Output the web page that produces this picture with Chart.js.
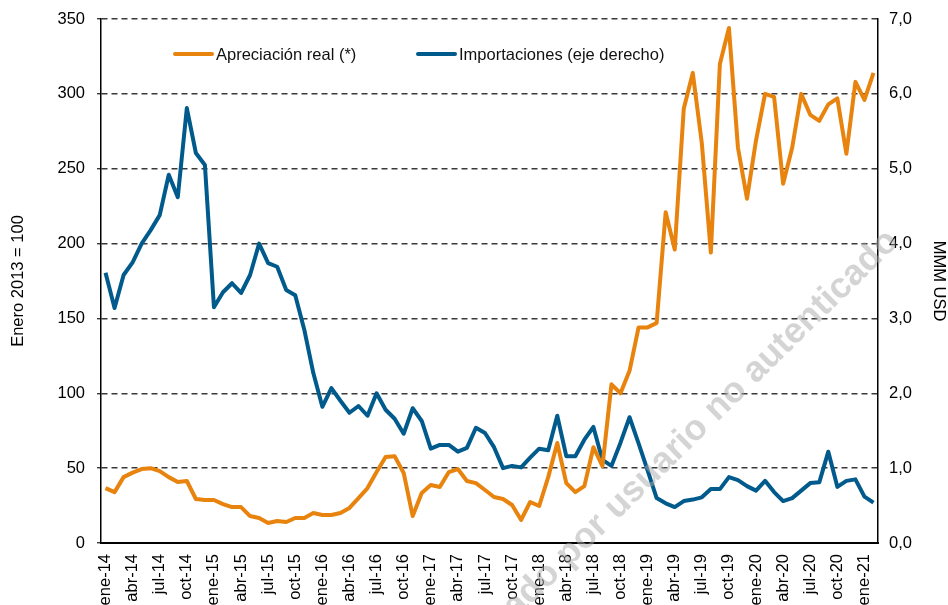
<!DOCTYPE html>
<html>
<head>
<meta charset="utf-8">
<script src="https://cdn.jsdelivr.net/npm/chart.js@4.4.1/dist/chart.umd.min.js"></script>
<style>
  html, body { margin: 0; padding: 0; background: #fff; }
  #wrap { width: 948px; height: 605px; }
</style>
</head>
<body>
<div id="wrap"><canvas id="chart" width="948" height="605"></canvas></div>
<script>
const FONT = "'Liberation Sans', Arial, sans-serif";
const FS   = 16.5;

// ── Data ──
const months = [
  "ene-14","feb-14","mar-14","abr-14","may-14","jun-14","jul-14","ago-14","sep-14","oct-14","nov-14","dic-14",
  "ene-15","feb-15","mar-15","abr-15","may-15","jun-15","jul-15","ago-15","sep-15","oct-15","nov-15","dic-15",
  "ene-16","feb-16","mar-16","abr-16","may-16","jun-16","jul-16","ago-16","sep-16","oct-16","nov-16","dic-16",
  "ene-17","feb-17","mar-17","abr-17","may-17","jun-17","jul-17","ago-17","sep-17","oct-17","nov-17","dic-17",
  "ene-18","feb-18","mar-18","abr-18","may-18","jun-18","jul-18","ago-18","sep-18","oct-18","nov-18","dic-18",
  "ene-19","feb-19","mar-19","abr-19","may-19","jun-19","jul-19","ago-19","sep-19","oct-19","nov-19","dic-19",
  "ene-20","feb-20","mar-20","abr-20","may-20","jun-20","jul-20","ago-20","sep-20","oct-20","nov-20","dic-20",
  "ene-21","feb-21"
];

// Apreciación real, Enero 2013 = 100 (left axis)
const apreciacion = [
  36.7, 34, 44, 47, 49.4, 50, 48, 44, 40.7, 41.4, 29.4, 28.7,
  28.7, 26, 24, 24, 18, 16.7, 13.4, 14.7, 14, 16.7, 16.7, 20,
  18.7, 18.7, 20, 23.4, 30, 36.7, 47.4, 57.4, 58, 46.8, 18, 33.4,
  38.7, 37.4, 47.4, 49.4, 41.4, 40, 35.4, 30.7, 29.4, 25.4, 15.4, 27.4,
  24.7, 44, 66.8, 40, 34, 38, 64, 51.4, 106, 100, 115, 144,
  144, 147, 221, 196, 290, 314, 267, 194, 320, 344, 264, 230,
  269, 300, 298, 240, 264, 300, 286, 282, 293, 297, 260, 308,
  296, 314
];

// Importaciones, MMM USD (right axis)
const importaciones = [
  3.61, 3.14, 3.58, 3.75, 4.0, 4.18, 4.38, 4.92, 4.62, 5.81, 5.21, 5.05,
  3.15, 3.35, 3.47, 3.34, 3.58, 4.0, 3.74, 3.69, 3.38, 3.31, 2.85, 2.27,
  1.82, 2.07, 1.90, 1.74, 1.83, 1.70, 2.0, 1.78, 1.66, 1.46, 1.80, 1.63,
  1.26, 1.31, 1.31, 1.22, 1.27, 1.54, 1.47, 1.28, 1.0, 1.03, 1.01, 1.14,
  1.26, 1.24, 1.70, 1.16, 1.16, 1.38, 1.55, 1.11, 1.03, 1.34, 1.68, 1.33,
  0.97, 0.60, 0.53, 0.48, 0.56, 0.58, 0.61, 0.72, 0.72, 0.88, 0.84, 0.76,
  0.70, 0.83, 0.68, 0.56, 0.60, 0.70, 0.80, 0.81, 1.22, 0.75, 0.83, 0.85,
  0.62, 0.54
];

const ORANGE = "#E8830E";
const BLUE   = "#005A8C";

// ── Legend inside the plot ──
const legendItems = [
  { text: "Apreciación real (*)",        color: ORANGE, x: 175 },
  { text: "Importaciones (eje derecho)", color: BLUE,   x: 418 },
];

const insideLegend = {
  id: "insideLegend",
  afterDraw(chart) {
    const ctx = chart.ctx;
    const y = 54;
    ctx.save();
    ctx.font = FS + "px " + FONT;
    ctx.textBaseline = "middle";
    ctx.fillStyle = "#111";
    legendItems.forEach(it => {
      ctx.strokeStyle = it.color;
      ctx.lineWidth = 4;
      ctx.lineCap = "round";
      ctx.beginPath();
      ctx.moveTo(it.x, y);
      ctx.lineTo(it.x + 37, y);
      ctx.stroke();
      ctx.fillText(it.text, it.x + 41, y + 1);
    });
    ctx.restore();
  }
};

// ── Watermark ──
const watermark = {
  id: "watermark",
  afterDraw(chart) {
    const ctx = chart.ctx;
    ctx.save();
    ctx.translate(893, 236);
    ctx.rotate(-Math.PI / 4.05);
    ctx.font = "bold 36px " + FONT;
    ctx.fillStyle = "rgba(170,170,170,0.5)";
    ctx.textAlign = "right";
    ctx.textBaseline = "middle";
    ctx.fillText("Descargado por usuario no autenticado", 0, 0);
    ctx.restore();
  }
};

// vertical axes: fixed width, no extra label padding
const fixY = w => s => { s.width = w; s.paddingTop = 0; s.paddingBottom = 0; };

// ── Chart ──
new Chart(document.getElementById("chart"), {
  type: "line",
  data: {
    labels: months,
    datasets: [
      {
        label: "Apreciación real (*)",
        data: apreciacion,
        yAxisID: "y",
        borderColor: ORANGE,
        backgroundColor: ORANGE,
        borderWidth: 4,
        pointRadius: 0,
        tension: 0,
        borderJoinStyle: "round",
      },
      {
        label: "Importaciones (eje derecho)",
        data: importaciones,
        yAxisID: "y2",
        borderColor: BLUE,
        backgroundColor: BLUE,
        borderWidth: 4,
        pointRadius: 0,
        tension: 0,
        borderJoinStyle: "round",
      },
    ],
  },
  options: {
    responsive: false,
    animation: false,
    devicePixelRatio: 1,
    layout: { padding: { top: 19, left: 0, right: 0, bottom: 0 } },
    plugins: { legend: { display: false }, tooltip: { enabled: false } },
    scales: {
      x: {
        type: "category",
        offset: true,
        grid: { display: false, drawTicks: false },
        border: { display: true, color: "#000", width: 2 },
        ticks: {
          autoSkip: false,
          minRotation: 90,
          maxRotation: 90,
          padding: 11,
          color: "#000",
          font: { family: FONT, size: FS },
          callback: (v, i) => (i % 3 === 0 ? months[i] : null),
        },
        afterFit: s => { s.height = 62; s.paddingLeft = 0; s.paddingRight = 0; },
      },
      y: {
        position: "left",
        min: 0,
        max: 350,
        ticks: {
          stepSize: 50,
          padding: 12,
          color: "#000",
          font: { family: FONT, size: FS },
        },
        grid: { color: "#3a3a3a", lineWidth: 1.4, drawTicks: true, tickLength: 4 },
        border: { display: true, color: "#000", width: 1.5, dash: [6, 4] },
        title: {
          display: true,
          text: "Enero 2013 = 100",
          color: "#000",
          font: { family: FONT, size: FS },
          padding: { top: 9, bottom: 0 },
        },
        afterFit: fixY(101),
      },
      y2: {
        position: "right",
        min: 0,
        max: 7,
        ticks: {
          stepSize: 1,
          padding: 11,
          color: "#000",
          font: { family: FONT, size: FS },
          callback: v => v.toFixed(1).replace(".", ","),
        },
        grid: { display: false, drawTicks: false },
        border: { display: true, color: "#000", width: 1.5 },
        title: {
          display: true,
          text: "MMM USD",
          color: "#000",
          font: { family: FONT, size: FS },
          padding: { top: 0, bottom: 0 },
        },
        afterFit: fixY(70),
      },
    },
  },
  plugins: [insideLegend, watermark],
});
</script>
</body>
</html>
